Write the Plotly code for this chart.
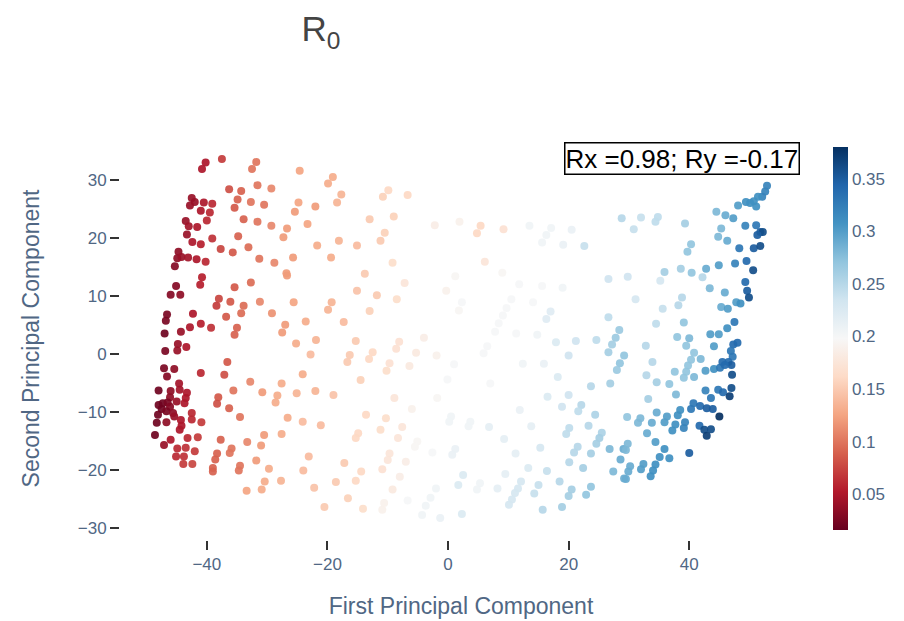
import plotly.graph_objects as go
import plotly.express as px

# First / second principal component scores and the R0 value of each sample
pc1 = [
    -40.2, -40.8, -37.5, -31.8, -32.5, -24.6, -42.5, -42.0, -42.8, -40.5,
    -39.1, -41.0, -39.5, -40.0, -36.3, -34.3, -31.6, -29.3, -34.9, -32.7,
    -30.5, -35.4, -24.8, -25.4, -33.9, -31.6, -29.3, -26.7, -27.3, -34.8,
    -43.5, -43.0, -41.6, -43.3, -42.4, -41.0, -39.1, -44.7, -44.9, -44.2,
    -43.1, -41.7, -40.2, -45.3, -37.7, -35.7, -33.1, -31.3, -28.8, -25.7,
    -26.8, -23.3, -19.1, -19.9, -17.7, -18.4, -22.0, -9.9, -10.8, -6.7,
    -13.0, -9.0, -10.5, -11.2, -2.2, 1.9, -21.7, -18.1, -15.1, -19.4,
    -9.2, -13.8, 5.4, 4.8, 9.2, 13.5, 17.1, 16.3, 15.6, 20.5,
    19.1, 22.6, 28.8, 6.1, 9.0, 52.9, 52.6, 52.1, 51.4, 50.7,
    51.1, 49.4, 50.1, 48.1, 44.5, 46.0, 47.3, 49.3, 51.1, 51.8,
    52.2, 51.3, 45.3, 44.8, 46.3, 48.3, 50.7, 51.8, 49.5, 47.6,
    44.9, 42.8, 40.3, 39.7, 39.3, 34.8, 34.4, 32.0, 30.8, 38.6,
    40.4, 35.9, 50.6,
    -40.8, -41.1, -35.4, -32.7, -26.7, -45.1, -46.0, -44.4, -38.0, -38.4,
    -36.1, -33.9, -34.3, -36.8, -31.2, -25.6, -29.2, -46.6, -46.8, -42.3,
    -41.0, -42.8, -39.3, -44.3, -47.0, -35.0, -35.4, -27.0, -27.5, -25.2,
    -44.8, -44.9, -43.4, -46.9, -36.6, -41.0, -37.1, -47.1, -45.4, -46.6,
    -24.1, -44.6, -44.5, -48.0, -46.0, -43.3, -32.8, -35.6, -30.8, -27.6,
    -28.3, -25.1, -38.1, -46.1, -43.5,
    -7.2, -15.1, -11.8, -8.5, -19.3, -19.9, -13.0, -23.6, -17.3, -0.3,
    1.2, 2.3, 1.8, -21.9, -15.3, -22.8, -16.3, -16.7, -12.5, -13.1,
    -8.1, -8.6, -4.0, -5.3, -1.9, -9.7, -10.2, -6.4, 1.0, -0.1,
    -14.5, -22.0, -19.0, -8.9, -1.8,
    11.8, 15.6, 19.0, 26.6, 10.5, 9.7, 9.1, 8.4, 7.8, 14.1,
    17.0, 16.3, 11.3, 14.8, 26.6, 28.4, 27.8, 27.2, 26.6, 24.6,
    21.2, 17.9, 20.0, 29.2, 28.5, 28.0, 6.5, 5.9, 12.4, 15.9,
    18.2, 23.7, 26.9, 7.0, 16.5, 20.0,
    29.8, 35.2, 42.2, 49.3, 49.6, 49.9, 43.4, 45.9, 31.1, 38.8,
    38.2, 35.6, 45.3, 46.4, 47.8, 48.5, 34.5, 39.1, 47.5, 46.3,
    43.5, 44.9, 38.0, 40.0, 39.5, 32.8, 44.1, 48.0, 47.3, 46.9,
    40.8, 40.3, 41.9, 47.2, 33.9, 39.8, 39.5, 39.1, 37.6, 40.8,
    42.7, 44.1, 45.1, 45.5, 46.5, 47.0, 45.9, 47.1, 32.9, 34.6,
    36.7, 42.7, 44.8, 45.6, 47.0, 46.7, 37.8, 43.6, 33.2,
    -48.0, -47.3, -46.5, -46.1, -47.5, -48.1, -46.7, -45.6, -45.0, -43.7,
    -45.4, -48.3, -46.7, -44.3, -44.2, -44.5, -42.5, -42.5, -40.9, -48.6,
    -46.0, -47.1, -43.2, -41.5, -44.9, -43.5, -42.0, -45.1, -43.8, -43.9,
    -42.4, -38.3, -36.3, -34.5, -37.7, -35.9, -36.2, -38.3, -38.6, -39.0,
    -39.0, -34.5, -34.7, -33.3, -31.0, -30.5, -27.6, -26.6, -28.6, -24.1,
    -31.8, -29.7, -24.0, -30.4, -27.7, -33.4, -30.9,
    -21.1, -13.6, -10.3, -14.9, -15.3, -11.2, -7.6, -8.3, -6.0, -23.1,
    -17.2, -14.4, -9.7, -10.0, -10.9, -7.0, -5.1, -5.5, -2.6, 0.5,
    0.2, 1.2, 0.7, -18.6, -15.3, -22.2, -16.6, -20.5, -14.1, -8.0,
    -9.2, -10.9, -10.6, -6.7, -2.0, -2.9, -3.7, -4.3, -1.3, 2.5,
    1.7, 2.3,
    3.7, 3.4, 6.8, 11.9, 9.3, 13.8, 18.9, 22.1, 21.6, 24.4,
    20.1, 19.6, 23.3, 25.5, 25.1, 24.6, 21.5, 20.9, 23.7, 26.8,
    29.1, 28.6, 11.2, 15.3, 20.1, 22.4, 27.4, 29.2, 13.3, 16.4,
    9.5, 8.2, 5.3, 4.8, 12.1, 11.6, 11.1, 10.6, 10.1, 15.0,
    14.3, 18.5, 20.5, 20.0, 23.7, 22.9, 18.9, 15.7,
    40.7, 40.3, 41.8, 42.9, 43.9, 45.0, 38.5, 38.1, 34.6, 29.7,
    31.9, 31.5, 33.8, 36.3, 35.9, 37.7, 37.2, 39.3, 39.1, 41.7,
    42.5, 43.6, 42.9, 33.0, 29.8, 29.5, 34.4, 35.9, 35.1, 36.7,
    40.0, 32.4, 32.0, 30.2, 29.9, 34.4, 34.0, 33.6, 29.5,
]

pc2 = [
    33.0, 31.9, 33.6, 33.1, 31.9, 31.6, 26.9, 26.2, 25.6, 26.1,
    25.9, 24.7, 24.4, 23.0, 28.4, 28.1, 29.1, 28.5, 26.6, 26.2,
    25.7, 25.2, 26.1, 24.5, 23.2, 22.8, 22.1, 21.6, 20.1, 20.3,
    22.9, 22.0, 21.9, 20.6, 19.3, 18.9, 19.9, 17.6, 16.5, 16.7,
    16.6, 16.3, 15.9, 15.1, 18.1, 17.5, 18.4, 16.4, 15.7, 16.6,
    13.9, 22.4, 30.5, 29.4, 27.5, 26.1, 25.4, 28.2, 27.1, 27.4,
    23.2, 23.7, 20.9, 19.5, 22.2, 22.8, 18.7, 19.5, 18.7, 16.6,
    15.7, 13.8, 22.1, 20.8, 21.5, 22.1, 21.7, 20.5, 19.2, 21.4,
    18.8, 18.6, 23.4, 15.9, 14.0, 29.0, 28.0, 27.1, 27.1, 26.3,
    25.4, 26.2, 26.0, 25.6, 24.5, 23.9, 23.4, 22.1, 22.2, 21.0,
    21.0, 20.5, 21.6, 20.2, 19.5, 18.2, 18.2, 18.6, 16.0, 15.6,
    15.3, 14.7, 18.9, 17.6, 22.5, 23.6, 22.8, 23.5, 21.5, 14.7,
    14.0, 14.1, 14.4,
    13.2, 11.9, 11.5, 12.3, 13.5, 11.7, 10.2, 10.2, 9.5, 8.3,
    9.0, 8.3, 7.0, 6.4, 9.0, 8.9, 7.0, 6.8, 5.7, 6.9,
    5.2, 4.6, 4.5, 3.8, 3.5, 4.5, 3.3, 5.0, 3.7, 1.8,
    1.7, 0.6, 1.2, 0.5, -1.4, -3.3, -3.6, -2.5, -2.6, -3.9,
    -3.5, -5.1, -6.2, -6.3, -6.4, -6.7, -4.8, -6.3, -6.6, -5.1,
    -7.2, -6.8, -7.5, -7.5, -7.6,
    12.2, 10.9, 10.1, 9.4, 8.9, 7.6, 7.4, 5.6, 5.5, 10.9,
    13.4, 8.9, 7.5, 2.4, 2.2, -0.1, -0.2, -1.4, 0.3, -0.9,
    2.1, 0.9, 2.8, 0.2, -0.3, -1.6, -2.9, -2.1, -1.8, -4.4,
    -4.5, -6.4, -7.1, -7.6, -7.6,
    12.0, 11.7, 11.4, 12.9, 9.4, 7.9, 6.6, 5.3, 3.8, 8.9,
    7.3, 6.0, 3.5, 3.3, 6.3, 4.1, 2.8, 1.6, 0.3, 2.4,
    2.2, 2.0, -0.3, -0.3, -1.6, -2.8, 1.3, 0.1, -1.7, -1.7,
    -4.0, -5.6, -5.1, -5.1, -7.4, -7.1,
    13.3, 12.6, 13.2, 12.4, 10.9, 9.7, 11.3, 10.6, 9.4, 9.7,
    8.4, 7.8, 8.1, 7.8, 8.9, 8.7, 5.2, 5.4, 5.5, 4.4,
    3.4, 3.4, 2.9, 2.7, 1.4, 1.4, 1.3, 1.9, 1.6, 0.5,
    0.2, -1.0, -0.9, -0.5, -1.4, -2.0, -3.1, -4.1, -3.1, -4.0,
    -2.9, -2.6, -2.4, -1.4, -1.4, -1.9, -1.9, -3.6, -3.7, -4.9,
    -5.2, -6.3, -6.2, -6.6, -5.9, -7.3, -7.0, -7.6, -7.8,
    -8.8, -8.5, -8.4, -9.1, -9.5, -10.5, -9.9, -10.2, -8.2, -8.5,
    -10.8, -11.9, -11.8, -11.4, -12.4, -13.1, -10.2, -11.3, -11.8, -14.0,
    -14.8, -15.7, -14.5, -14.4, -16.3, -16.2, -16.8, -17.7, -17.7, -19.0,
    -19.0, -8.6, -9.4, -10.9, -14.8, -16.3, -17.1, -17.2, -18.2, -19.7,
    -20.3, -19.3, -20.1, -15.2, -15.8, -14.0, -13.8, -11.0, -8.4, -11.7,
    -18.4, -19.8, -20.1, -22.0, -21.9, -23.6, -23.4,
    -12.3, -10.5, -11.1, -13.7, -14.5, -13.1, -12.6, -14.5, -9.5, -17.7,
    -18.8, -20.3, -17.2, -18.3, -19.9, -18.6, -15.1, -16.0, -17.0, -10.8,
    -11.7, -16.4, -17.4, -22.1, -21.9, -23.1, -24.9, -26.4, -26.7, -21.2,
    -23.4, -26.9, -25.7, -25.3, -23.2, -24.8, -26.2, -27.8, -28.3, -20.9,
    -22.6, -27.6,
    -11.7, -12.5, -12.6, -9.7, -14.7, -12.5, -9.1, -8.8, -9.9, -10.5,
    -12.8, -13.8, -12.4, -13.6, -14.5, -15.5, -16.0, -17.0, -17.2, -16.4,
    -16.4, -18.2, -17.2, -16.2, -18.7, -19.7, -20.3, -21.5, -19.7, -20.2,
    -20.7, -23.2, -22.3, -23.4, -22.0, -23.2, -24.0, -25.1, -26.0, -22.6,
    -24.1, -22.0, -23.4, -24.5, -22.9, -24.3, -26.4, -26.9,
    -8.5, -9.5, -9.0, -9.4, -9.5, -10.8, -9.7, -10.6, -10.1, -10.9,
    -11.1, -11.9, -11.9, -10.8, -11.8, -12.2, -13.2, -11.8, -12.8, -12.4,
    -13.1, -13.0, -14.1, -13.7, -15.5, -16.6, -15.2, -16.4, -17.8, -18.0,
    -17.1, -19.0, -19.9, -19.4, -20.3, -19.1, -20.1, -21.1, -21.6,
]

r0 = [
    0.05, 0.05, 0.07, 0.10, 0.10, 0.125, 0.04, 0.04, 0.04, 0.05,
    0.06, 0.05, 0.06, 0.06, 0.08, 0.09, 0.10, 0.11, 0.09, 0.10,
    0.10, 0.085, 0.125, 0.12, 0.09, 0.10, 0.11, 0.12, 0.12, 0.09,
    0.04, 0.045, 0.05, 0.04, 0.05, 0.055, 0.065, 0.035, 0.035, 0.04,
    0.045, 0.05, 0.06, 0.03, 0.075, 0.085, 0.095, 0.10, 0.11, 0.12,
    0.12, 0.125, 0.13, 0.13, 0.135, 0.135, 0.12, 0.16, 0.155, 0.16,
    0.15, 0.155, 0.155, 0.15, 0.185, 0.19, 0.13, 0.135, 0.14, 0.13,
    0.165, 0.15, 0.16, 0.16, 0.17, 0.205, 0.205, 0.205, 0.205, 0.21,
    0.21, 0.24, 0.25, 0.175, 0.195, 0.32, 0.32, 0.32, 0.31, 0.31,
    0.31, 0.31, 0.31, 0.30, 0.28, 0.29, 0.30, 0.32, 0.33, 0.35,
    0.36, 0.35, 0.28, 0.28, 0.29, 0.33, 0.35, 0.36, 0.34, 0.32,
    0.30, 0.29, 0.27, 0.27, 0.26, 0.245, 0.245, 0.24, 0.24, 0.26,
    0.27, 0.26, 0.36,
    0.055, 0.055, 0.085, 0.095, 0.12, 0.03, 0.03, 0.035, 0.075, 0.07,
    0.085, 0.095, 0.095, 0.085, 0.11, 0.125, 0.115, 0.025, 0.025, 0.05,
    0.055, 0.05, 0.065, 0.04, 0.02, 0.09, 0.09, 0.12, 0.12, 0.13,
    0.04, 0.04, 0.05, 0.025, 0.085, 0.06, 0.08, 0.025, 0.035, 0.03,
    0.13, 0.045, 0.045, 0.02, 0.035, 0.05, 0.11, 0.10, 0.12, 0.13,
    0.13, 0.135, 0.085, 0.035, 0.05,
    0.175, 0.145, 0.15, 0.165, 0.135, 0.135, 0.155, 0.13, 0.14, 0.19,
    0.195, 0.20, 0.195, 0.135, 0.15, 0.14, 0.15, 0.15, 0.16, 0.16,
    0.17, 0.17, 0.185, 0.18, 0.19, 0.17, 0.165, 0.18, 0.20, 0.20,
    0.155, 0.135, 0.145, 0.175, 0.195,
    0.20, 0.20, 0.205, 0.235, 0.20, 0.20, 0.20, 0.20, 0.20, 0.20,
    0.22, 0.22, 0.20, 0.205, 0.245, 0.265, 0.265, 0.26, 0.26, 0.245,
    0.235, 0.225, 0.235, 0.27, 0.27, 0.265, 0.20, 0.20, 0.205, 0.21,
    0.225, 0.25, 0.26, 0.20, 0.225, 0.235,
    0.235, 0.23, 0.25, 0.34, 0.35, 0.36, 0.28, 0.29, 0.23, 0.25,
    0.25, 0.24, 0.29, 0.30, 0.30, 0.31, 0.245, 0.27, 0.33, 0.31,
    0.30, 0.30, 0.27, 0.28, 0.27, 0.25, 0.30, 0.34, 0.34, 0.33,
    0.27, 0.27, 0.28, 0.33, 0.25, 0.27, 0.27, 0.27, 0.27, 0.28,
    0.30, 0.31, 0.33, 0.34, 0.34, 0.35, 0.34, 0.36, 0.25, 0.26,
    0.27, 0.32, 0.33, 0.34, 0.36, 0.37, 0.28, 0.33, 0.26,
    0.02, 0.02, 0.025, 0.03, 0.02, 0.02, 0.025, 0.035, 0.04, 0.05,
    0.04, 0.02, 0.035, 0.05, 0.05, 0.05, 0.06, 0.06, 0.07, 0.02,
    0.05, 0.04, 0.06, 0.07, 0.06, 0.065, 0.07, 0.06, 0.065, 0.07,
    0.075, 0.08, 0.09, 0.10, 0.09, 0.10, 0.10, 0.09, 0.09, 0.09,
    0.09, 0.10, 0.10, 0.11, 0.12, 0.12, 0.13, 0.13, 0.13, 0.14,
    0.12, 0.13, 0.14, 0.13, 0.135, 0.125, 0.13,
    0.14, 0.16, 0.165, 0.16, 0.16, 0.165, 0.175, 0.175, 0.19, 0.14,
    0.15, 0.16, 0.175, 0.175, 0.17, 0.185, 0.195, 0.195, 0.20, 0.205,
    0.205, 0.21, 0.21, 0.15, 0.16, 0.145, 0.155, 0.15, 0.165, 0.185,
    0.18, 0.19, 0.19, 0.20, 0.205, 0.205, 0.205, 0.205, 0.21, 0.225,
    0.225, 0.225,
    0.205, 0.205, 0.215, 0.21, 0.215, 0.215, 0.235, 0.25, 0.245, 0.255,
    0.245, 0.245, 0.25, 0.255, 0.26, 0.26, 0.25, 0.25, 0.26, 0.28,
    0.29, 0.29, 0.215, 0.23, 0.25, 0.26, 0.28, 0.29, 0.225, 0.24,
    0.215, 0.215, 0.205, 0.205, 0.23, 0.23, 0.23, 0.23, 0.23, 0.24,
    0.24, 0.25, 0.26, 0.26, 0.27, 0.27, 0.26, 0.25,
    0.33, 0.33, 0.34, 0.35, 0.35, 0.38, 0.31, 0.31, 0.29, 0.27,
    0.28, 0.28, 0.29, 0.30, 0.30, 0.31, 0.31, 0.32, 0.32, 0.34,
    0.36, 0.36, 0.37, 0.29, 0.28, 0.28, 0.30, 0.31, 0.31, 0.31,
    0.35, 0.30, 0.30, 0.29, 0.29, 0.31, 0.31, 0.31, 0.29,
]

colorbar_ticks = [0.05, 0.1, 0.15, 0.2, 0.25, 0.3, 0.35]
colorbar_labels = ["0.05", "0.1", "0.15", "0.2", "0.25", "0.3", "0.35"]
x_ticks = [-40, -20, 0, 20, 40]
y_ticks = [-30, -20, -10, 0, 10, 20, 30]

FONT = "Liberation Sans, Arial, sans-serif"
LABEL = "#506784"


def minus(v):
    return str(v).replace("-", "\u2212")


fig = go.Figure(
    go.Scatter(
        x=pc1,
        y=pc2,
        mode="markers",
        marker=dict(
            size=8,
            color=r0,
            colorscale=px.colors.diverging.RdBu,
            cmin=0.016,
            cmax=0.38,
            opacity=0.92,
            line=dict(width=0),
            colorbar=dict(
                thickness=15,
                len=1,
                x=1.031,
                xanchor="left",
                xpad=10,
                ypad=10,
                outlinewidth=0,
                tickvals=colorbar_ticks,
                ticktext=colorbar_labels,
                ticks="",
                tickfont=dict(size=17, color=LABEL, family=FONT),
            ),
        ),
        hoverinfo="skip",
    )
)

fig.update_layout(
    width=904,
    height=621,
    margin=dict(l=120, r=102, t=137, b=81, autoexpand=False),
    paper_bgcolor="white",
    plot_bgcolor="white",
    font=dict(family=FONT, color=LABEL),
    title=dict(
        text="R<sub>0</sub>",
        font=dict(size=35, color="#444", family=FONT),
        xref="container",
        x=0.355,
        xanchor="center",
        yref="container",
        y=0.953,
        yanchor="middle",
    ),
    xaxis=dict(
        range=[-54.4, 58.7],
        automargin=False,
        tickvals=x_ticks,
        ticktext=[minus(v) for v in x_ticks],
        showgrid=False,
        zeroline=False,
        showline=False,
        ticks="outside",
        ticklen=9,
        tickwidth=2,
        tickcolor="#333",
        tickfont=dict(size=17, color=LABEL),
        title=dict(text="First Principal Component", font=dict(size=23, color=LABEL), standoff=24),
    ),
    yaxis=dict(
        range=[-32.1, 37.4],
        automargin=False,
        tickvals=y_ticks,
        ticktext=[minus(v) for v in y_ticks],
        showgrid=False,
        zeroline=False,
        showline=False,
        ticks="outside",
        ticklen=9,
        tickwidth=2,
        tickcolor="#333",
        tickfont=dict(size=17, color=LABEL),
        title=dict(text="Second Principal Component", font=dict(size=23, color=LABEL), standoff=31),
    ),
    annotations=[
        dict(
            text="Rx =0.98; Ry =-0.17",
            xref="paper",
            yref="paper",
            x=0.997,
            y=0.947,
            xanchor="right",
            yanchor="middle",
            showarrow=False,
            font=dict(size=26, color="black", family=FONT),
            bgcolor="white",
            bordercolor="black",
            borderwidth=1.5,
            borderpad=0,
        )
    ],
)

fig.write_html("out.html")
